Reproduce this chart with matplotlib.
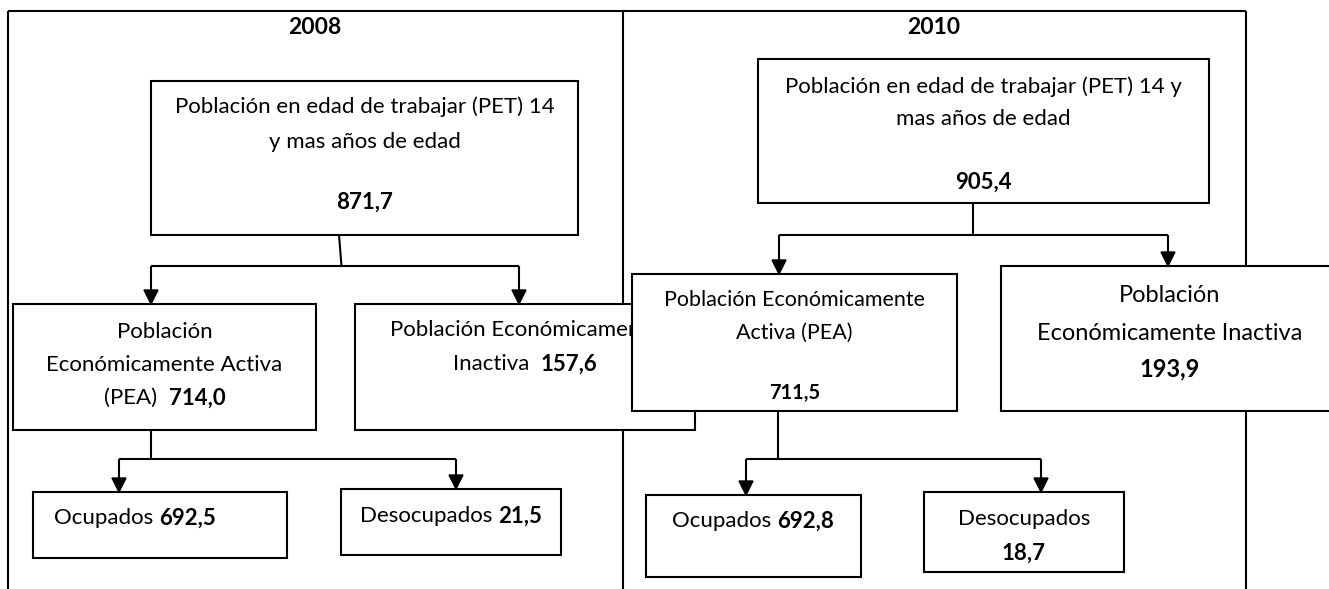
import matplotlib
matplotlib.use("Agg")
import matplotlib.pyplot as plt
from matplotlib.patches import Rectangle, Polygon

plt.rcParams['font.family'] = ['Lato', 'DejaVu Sans']

# Datos (miles de personas)
years = ["2008", "2010"]
pet = ["871,7", "905,4"]
pea = ["714,0", "711,5"]
pei = ["157,6", "193,9"]
ocupados = ["692,5", "692,8"]
desocupados = ["21,5", "18,7"]

FS = 16
LW = 1.5

fig = plt.figure(figsize=(13.29, 5.89), dpi=100)
ax = fig.add_axes([0, 0, 1, 1])
ax.set_xlim(0, 1329)
ax.set_ylim(589, 0)
ax.axis('off')
renderer = fig.canvas.get_renderer()


def box(x0, x1, y0, y1, z):
    ax.add_patch(Rectangle((x0, y0), x1 - x0, y1 - y0, facecolor='white',
                           edgecolor='black', lw=LW, zorder=z))


def line(xs, ys, z=1):
    ax.plot(xs, ys, color='black', lw=LW, zorder=z, solid_capstyle='butt')


def arrow(x, y0, y1, z=1):
    line([x, x], [y0, y1 - 12], z)
    ax.add_patch(Polygon([[x - 7, y1 - 14], [x + 7, y1 - 14], [x, y1]],
                         closed=True, color='black', zorder=z))


def rich(x, y, parts, z, size=FS, align='center'):
    # parts: lista de (texto, negrita)
    texts = []
    for s, bold in parts:
        t = ax.text(0, y, s, fontsize=size, va='center', ha='left',
                    fontweight='bold' if bold else 'normal', zorder=z)
        texts.append(t)
    widths = [t.get_window_extent(renderer).width for t in texts]
    total = sum(widths)
    cur = x - total / 2 if align == 'center' else x
    for t, w in zip(texts, widths):
        t.set_x(cur)
        cur += w


# Marco general
line([8, 1246], [11, 11])
line([8, 8], [11, 589])
line([623, 623], [11, 589])
line([1246, 1246], [11, 589])

# ---- 2008 ----
rich(315, 28, [(years[0], True)], 3, size=16.5)
box(151, 578, 81, 235, 2)
rich(364.5, 107, [("Población en edad de trabajar (PET) 14", False)], 3)
rich(364.5, 142, [("y mas años de edad", False)], 3)
rich(364.5, 202, [(pet[0], True)], 3)
line([339, 341.5], [235, 266])
line([151, 519], [266, 266])
arrow(151, 266, 304)
arrow(519, 266, 304)

box(13, 316, 304, 430, 2)
rich(164.5, 332, [("Población", False)], 3)
rich(164.5, 365, [("Económicamente Activa", False)], 3)
rich(164.5, 398, [("(PEA)  ", False), (pea[0], True)], 3)

box(355, 695, 304, 430, 2)
rich(525, 330, [("Población Económicamente", False)], 3)
rich(525, 364, [("Inactiva  ", False), (pei[0], True)], 3)

line([151, 151], [430, 459])
line([119, 456], [459, 459])
arrow(119, 459, 492)
arrow(456, 459, 489)
box(33, 287, 492, 558, 2)
rich(54, 518, [("Ocupados ", False), (ocupados[0], True)], 3, align='left')
box(341, 561, 489, 555, 2)
rich(451, 516, [("Desocupados ", False), (desocupados[0], True)], 3)

# ---- 2010 ----
rich(934, 28, [(years[1], True)], 3, size=16.5)
box(758, 1209, 59, 203, 2)
rich(983.5, 87, [("Población en edad de trabajar (PET) 14 y", False)], 3)
rich(983.5, 119, [("mas años de edad", False)], 3)
rich(983.5, 182, [(pet[1], True)], 3)
line([973, 973], [203, 235])
line([779, 1168], [235, 235])
arrow(779, 235, 274)
arrow(1168, 235, 266)

box(632, 957, 274, 411, 4)
rich(794.5, 300, [("Población Económicamente", False)], 5, size=15.5)
rich(794.5, 333, [("Activa (PEA)", False)], 5, size=15.5)
rich(794.5, 393, [(pea[1], True)], 5, size=14.5)

box(1001, 1340, 266, 411, 4)
rich(1169.5, 295, [("Población", False)], 5, size=17)
rich(1169.5, 333, [("Económicamente Inactiva", False)], 5, size=17)
rich(1169.5, 369, [(pei[1], True)], 5, size=17)

line([778, 778], [411, 459])
line([746, 1041], [459, 459])
arrow(746, 459, 495)
arrow(1041, 459, 492)
box(646, 861, 495, 577, 2)
rich(753, 521, [("Ocupados ", False), (ocupados[1], True)], 3)
box(924, 1124, 492, 572, 2)
rich(1024, 519, [("Desocupados", False)], 3)
rich(1024, 553, [(desocupados[1], True)], 3)

fig.savefig("out.png", dpi=100)
